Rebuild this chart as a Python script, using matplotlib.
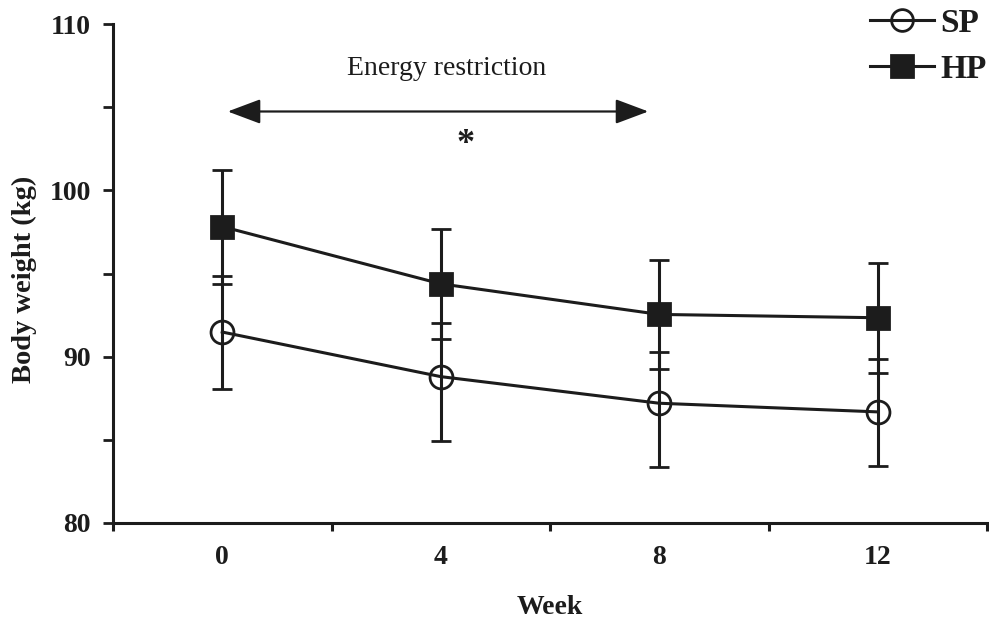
import matplotlib
matplotlib.use("Agg")
import matplotlib.pyplot as plt
from matplotlib.patches import ArrowStyle

weeks = [0, 4, 8, 12]
sp_mean = [91.48, 88.80, 87.20, 86.68]
sp_err_low = [3.44, 3.86, 3.86, 3.24]
sp_err_high = [3.36, 3.20, 3.08, 3.20]
hp_mean = [97.82, 94.38, 92.54, 92.34]
hp_err_low = [3.45, 3.30, 3.30, 3.34]
hp_err_high = [3.38, 3.30, 3.30, 3.30]
x_tick_labels = ["0", "4", "8", "12"]
y_ticks = [80, 90, 100, 110]

INK = "#1c1c1c"
plt.rcParams["font.family"] = ["Liberation Serif", "DejaVu Serif"]

fig = plt.figure(figsize=(9.89, 6.22), dpi=100)
ax = fig.add_axes([113 / 989, 1 - 523 / 622, (987 - 113) / 989, (523 - 24) / 622])

common = dict(color=INK, lw=2.2, elinewidth=2.2, capsize=7.2, capthick=2.2,
              markersize=16.5, markeredgewidth=2.0, zorder=3)
sp = ax.errorbar(weeks, sp_mean, yerr=[sp_err_low, sp_err_high], fmt="-o",
                 markerfacecolor="none", markeredgecolor=INK, label="SP", **common)
hp = ax.errorbar(weeks, hp_mean, yerr=[hp_err_low, hp_err_high], fmt="-s",
                 markerfacecolor=INK, markeredgecolor=INK, label="HP", **common)

ax.set_xlim(-2, 14)
ax.set_ylim(80, 110)
for s in ["top", "right"]:
    ax.spines[s].set_visible(False)
for s in ["left", "bottom"]:
    ax.spines[s].set_linewidth(2.2)
    ax.spines[s].set_color(INK)

# x: unlabeled major ticks between weeks, labels on minor (no tick mark)
ax.set_xticks([-2, 2, 6, 10, 14])
ax.set_xticklabels([])
ax.set_xticks(weeks, minor=True)
ax.set_xticklabels(x_tick_labels, minor=True, fontsize=20, fontweight="bold", color=INK)
ax.tick_params(axis="x", which="major", direction="out", length=6, width=2.2, color=INK)
ax.tick_params(axis="x", which="minor", length=0, pad=16)

ax.set_yticks(y_ticks)
ax.set_yticklabels([str(v) for v in y_ticks], fontsize=20, fontweight="bold", color=INK)
ax.set_yticks([85, 95, 105], minor=True)
ax.tick_params(axis="y", which="both", direction="out", length=7, width=2.0, color=INK, pad=9)

ax.set_xlabel("Week", fontsize=20, fontweight="bold", color=INK)
ax.xaxis.set_label_coords(0.5, -0.145)
ax.xaxis.label.set_va("top")
ax.set_ylabel("Body weight (kg)", fontsize=20.5, fontweight="bold", color=INK)
ax.yaxis.set_label_coords(-0.087, 0.489)

# energy restriction arrow
ax.annotate("", xy=(0.1, 104.74), xytext=(7.8, 104.74),
            arrowprops=dict(arrowstyle=ArrowStyle("<|-|>", head_length=1.2, head_width=0.45),
                            mutation_scale=17, lw=1.6, color=INK, shrinkA=0, shrinkB=0))
ax.text(4.1, 107.3, "Energy restriction", fontsize=20, ha="center", va="center", color=INK)
ax.text(4.45, 102.75, "*", fontsize=26, fontweight="bold", ha="center", va="center", color=INK)

leg = fig.legend(handles=[sp[0], hp[0]], labels=["SP", "HP"],
                 loc="upper right", bbox_to_anchor=(1.028, 1.036), frameon=False,
                 prop=dict(family="Liberation Serif", weight="bold", size=24),
                 handlelength=1.9, handletextpad=0.2, labelspacing=0.45, markerscale=0.95)
for t in leg.get_texts():
    t.set_color(INK)

fig.savefig("out.png", dpi=100)
